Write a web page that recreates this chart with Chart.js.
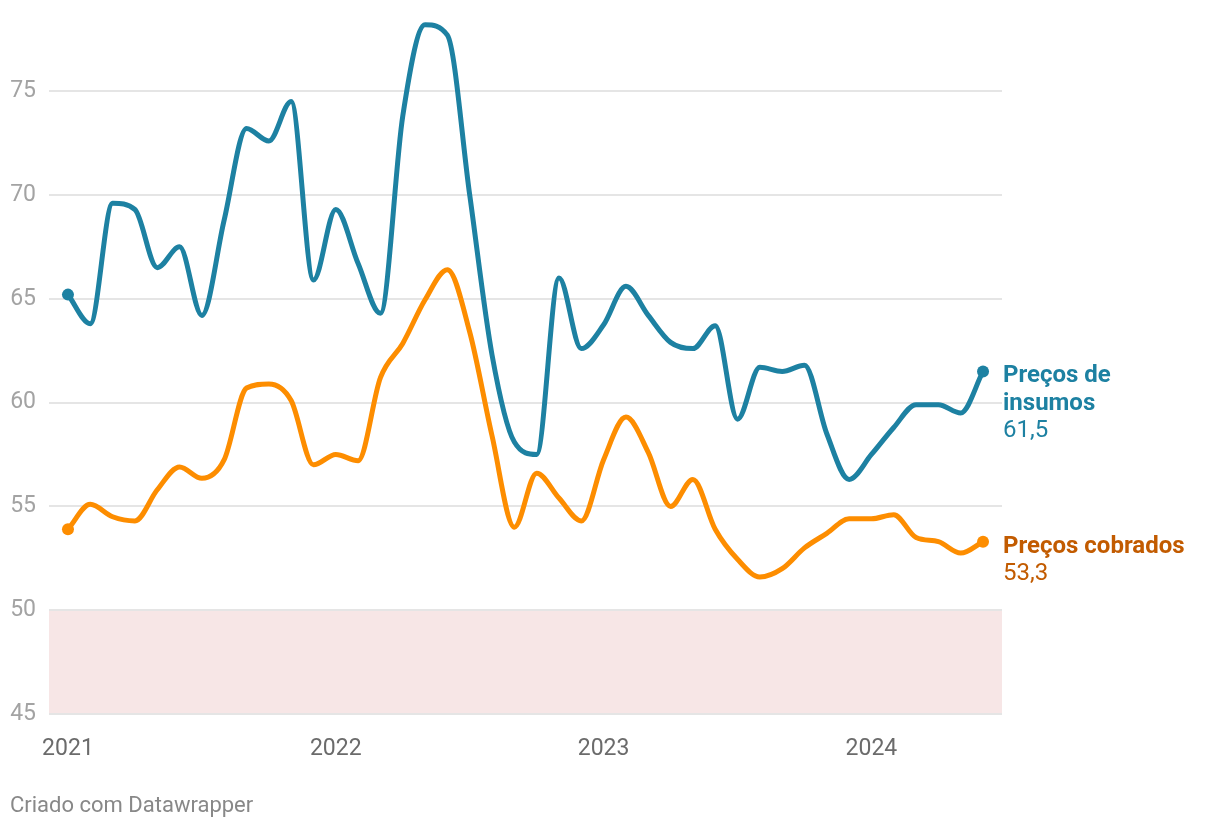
<!DOCTYPE html>
<html lang="pt">
<head>
<meta charset="utf-8">
<script src="https://cdn.jsdelivr.net/npm/chart.js@4.4.1/dist/chart.umd.min.js"></script>
<style>
  html, body { margin: 0; padding: 0; background: #fff; }
  #wrap { position: relative; width: 1220px; height: 830px; }
  #footer { position: absolute; left: 10px; top: 792px; font: 22px Roboto, sans-serif; color: #888; }
</style>
</head>
<body>
<div id="wrap">
  <canvas id="chart" width="1220" height="830"></canvas>
  <div id="footer">Criado com Datawrapper</div>
</div>
<script>
// jan/2021 .. jun/2024, mensal
const insumos = [65.2, 63.8, 69.6, 69.3, 66.5, 67.5, 64.2, 68.8, 73.2, 72.6, 74.5, 65.9,
  69.3, 66.7, 64.3, 73.8, 78.2, 77.7, 70.0, 62.3, 58.1, 57.5, 66.0, 62.6,
  63.75, 65.6, 64.2, 62.9, 62.6, 63.7, 59.2, 61.7, 61.5, 61.8, 58.5, 56.3,
  57.5, 58.8, 59.9, 59.9, 59.5, 61.5];
const cobrados = [53.9, 55.1, 54.5, 54.3, 55.8, 56.9, 56.35, 57.25, 60.7, 60.9, 60.1, 57.0,
  57.5, 57.2, 61.2, 62.85, 64.95, 66.4, 63.4, 58.4, 54.0, 56.6, 55.4, 54.3,
  57.25, 59.3, 57.6, 55.0, 56.3, 53.9, 52.45, 51.6, 52.0, 53.0, 53.7, 54.4,
  54.4, 54.6, 53.5, 53.3, 52.75, 53.3];
const yearTicks = [0, 12, 24, 36];
const yearLabels = ["2021", "2022", "2023", "2024"];
const yTicks = [45, 50, 55, 60, 65, 70, 75];
const seriesNames = [["Preços de", "insumos"], ["Preços cobrados"]];
const bandRange = [45, 50];

const BLUE = "#1d81a2";
const ORANGE = "#fd8d00";
const LABEL_COLORS = ["#1d81a2", "#c25b00"];

const toPts = (arr) => arr.map((v, i) => ({ x: i, y: v }));
const endDots = (arr) => arr.map((v, i) => (i === 0 || i === arr.length - 1 ? 6 : 0));
const fmt = (v) => v.toFixed(1).replace(".", ",");

const bandPlugin = {
  id: "band",
  beforeDraw(chart) {
    const { ctx, chartArea, scales } = chart;
    const top = scales.y.getPixelForValue(bandRange[1]);
    const bottom = scales.y.getPixelForValue(bandRange[0]);
    ctx.save();
    ctx.fillStyle = "#f7e6e6";
    ctx.fillRect(chartArea.left, top, chartArea.right - chartArea.left, bottom - top);
    ctx.restore();
  },
};

const endLabels = {
  id: "endLabels",
  afterDatasetsDraw(chart) {
    const { ctx, chartArea } = chart;
    ctx.save();
    ctx.textBaseline = "middle";
    ctx.textAlign = "left";
    chart.data.datasets.forEach((ds, di) => {
      const meta = chart.getDatasetMeta(di);
      const last = meta.data[meta.data.length - 1];
      const x = chartArea.right + 1;
      let y = last.y + 5;
      ctx.fillStyle = LABEL_COLORS[di];
      ctx.font = "bold 24px Roboto, sans-serif";
      seriesNames[di].forEach((line) => {
        ctx.fillText(line, x, y);
        y += 27.5;
      });
      ctx.font = "24px Roboto, sans-serif";
      ctx.fillText(fmt(ds.data[ds.data.length - 1].y), x, y);
    });
    ctx.restore();
  },
};

new Chart(document.getElementById("chart"), {
  type: "line",
  data: {
    datasets: [
      {
        data: toPts(insumos),
        borderColor: BLUE,
        backgroundColor: BLUE,
        borderWidth: 5,
        pointRadius: endDots(insumos),
        pointBorderWidth: 0,
        cubicInterpolationMode: "monotone",
        clip: false,
      },
      {
        data: toPts(cobrados),
        borderColor: ORANGE,
        backgroundColor: ORANGE,
        borderWidth: 5,
        pointRadius: endDots(cobrados),
        pointBorderWidth: 0,
        cubicInterpolationMode: "monotone",
        clip: false,
      },
    ],
  },
  options: {
    responsive: false,
    animation: false,
    events: [],
    layout: { padding: { top: 0, right: 218, left: 0, bottom: 0 } },
    plugins: { legend: { display: false }, tooltip: { enabled: false } },
    scales: {
      x: {
        type: "linear",
        min: -0.85,
        max: 41.85,
        grid: { display: false },
        border: { display: false },
        afterBuildTicks: (s) => (s.ticks = yearTicks.map((v) => ({ value: v }))),
        afterFit: (s) => (s.height = 116),
        ticks: {
          padding: 13,
          autoSkip: false,
          maxRotation: 0,
          color: "#6b6b6b",
          font: { family: "Roboto", size: 23 },
          callback: (v) => yearLabels[yearTicks.indexOf(v)],
        },
      },
      y: {
        min: 45,
        max: 78.1,
        grid: { color: "#e5e5e5", lineWidth: 2, drawTicks: false },
        border: { display: false },
        afterBuildTicks: (s) => (s.ticks = yTicks.map((v) => ({ value: v }))),
        afterFit: (s) => (s.width = 49),
        ticks: {
          padding: 13,
          color: "#a3a3a3",
          font: { family: "Roboto", size: 23 },
        },
      },
    },
  },
  plugins: [bandPlugin, endLabels],
});
</script>
</body>
</html>
